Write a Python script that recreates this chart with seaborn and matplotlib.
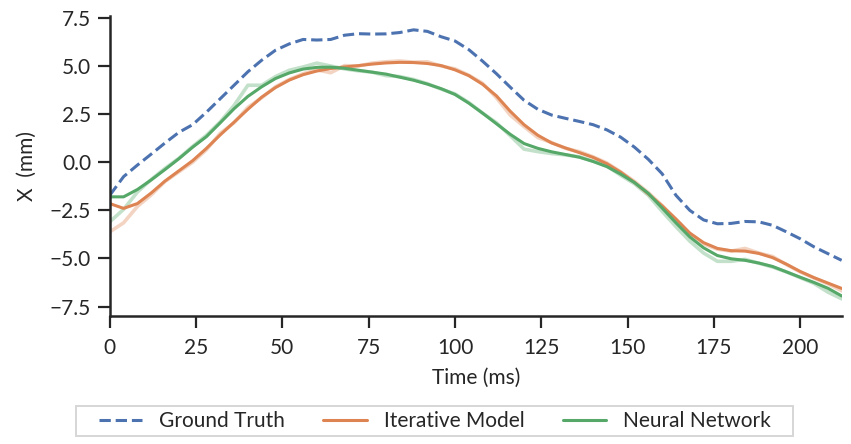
import numpy as np
import pandas as pd
import matplotlib
matplotlib.use("Agg")
import matplotlib.pyplot as plt
import seaborn as sns

# Sample times (ms)
time_ms = list(range(0, 213, 4))

ground_truth = [
    -1.72, -0.75, -0.15, 0.42, 1.00, 1.55, 1.95, 2.60, 3.30, 4.00,
    4.70, 5.30, 5.82, 6.15, 6.38, 6.35, 6.38, 6.60, 6.68, 6.66,
    6.67, 6.74, 6.88, 6.80, 6.52, 6.30, 5.85, 5.25, 4.60, 3.90,
    3.22, 2.75, 2.45, 2.28, 2.12, 1.95, 1.68, 1.30, 0.78, 0.15,
    -0.60, -1.72, -2.50, -3.00, -3.20, -3.18, -3.08, -3.10, -3.28, -3.62,
    -3.98, -4.40, -4.75, -5.10,
]

iterative_smooth = [
    -2.15, -2.40, -2.15, -1.60, -0.98, -0.45, 0.08, 0.72, 1.42, 2.08,
    2.75, 3.38, 3.88, 4.27, 4.55, 4.74, 4.87, 4.95, 5.02, 5.10,
    5.16, 5.19, 5.18, 5.13, 5.02, 4.80, 4.50, 4.05, 3.45, 2.65,
    1.95, 1.40, 1.00, 0.74, 0.50, 0.25, -0.08, -0.52, -1.05, -1.65,
    -2.27, -2.95, -3.68, -4.18, -4.48, -4.60, -4.62, -4.74, -4.96, -5.30,
    -5.68, -6.00, -6.28, -6.56,
]

iterative_raw = [
    -3.62, -3.15, -2.30, -1.70, -1.00, -0.50, 0.00, 0.65, 1.50, 2.05,
    2.85, 3.35, 3.92, 4.30, 4.60, 4.80, 4.65, 5.02, 5.00, 5.15,
    5.22, 5.26, 5.20, 5.22, 5.00, 4.85, 4.52, 4.10, 3.35, 2.45,
    1.85, 1.28, 1.02, 0.72, 0.55, 0.28, -0.04, -0.50, -1.00, -1.58,
    -2.25, -3.00, -3.72, -4.25, -4.52, -4.62, -4.48, -4.72, -4.90, -5.32,
    -5.70, -6.02, -6.32, -6.68,
]

network_smooth = [
    -1.80, -1.80, -1.42, -0.92, -0.38, 0.18, 0.78, 1.33, 2.05, 2.78,
    3.42, 3.92, 4.35, 4.64, 4.84, 4.93, 4.94, 4.88, 4.78, 4.68,
    4.58, 4.42, 4.26, 4.06, 3.82, 3.52, 3.07, 2.55, 2.00, 1.45,
    0.97, 0.72, 0.54, 0.40, 0.26, 0.04, -0.23, -0.62, -1.06, -1.62,
    -2.38, -3.15, -3.88, -4.45, -4.85, -5.02, -5.10, -5.24, -5.42, -5.70,
    -5.98, -6.25, -6.55, -6.95,
]

network_raw = [
    -3.10, -2.45, -1.55, -0.90, -0.32, 0.20, 0.82, 1.40, 2.10, 2.95,
    4.00, 4.00, 4.45, 4.78, 4.95, 5.15, 5.00, 4.85, 4.75, 4.68,
    4.50, 4.45, 4.30, 4.08, 3.80, 3.55, 3.10, 2.55, 2.05, 1.38,
    0.68, 0.55, 0.45, 0.38, 0.28, 0.05, -0.20, -0.68, -1.12, -1.72,
    -2.55, -3.35, -4.10, -4.72, -5.15, -5.15, -5.05, -5.25, -5.45, -5.70,
    -6.00, -6.30, -6.75, -7.10,
]

x_ticks = [0, 25, 50, 75, 100, 125, 150, 175, 200]
y_ticks = [-7.5, -5.0, -2.5, 0.0, 2.5, 5.0, 7.5]

sns.set_theme(style="ticks", context="notebook")
plt.rcParams["font.family"] = ["Lato", "DejaVu Sans"]
plt.rcParams["axes.unicode_minus"] = True

pal = sns.color_palette("deep")
c_gt, c_it, c_nn = pal[0], pal[1], pal[2]

df = pd.DataFrame({
    "t": time_ms,
    "gt": ground_truth,
    "it_s": iterative_smooth,
    "it_r": iterative_raw,
    "nn_s": network_smooth,
    "nn_r": network_raw,
})

fs = 15
ink = "#262626"

fig = plt.figure(figsize=(8.51, 4.44), dpi=100)
ax = fig.add_axes([0.129, 0.288, 0.86, 0.676])

lw = 2.2
# faint unfiltered traces
sns.lineplot(data=df, x="t", y="it_r", ax=ax, color=c_it, alpha=0.35, lw=2.6, legend=False)
sns.lineplot(data=df, x="t", y="nn_r", ax=ax, color=c_nn, alpha=0.35, lw=2.6, legend=False)
# smoothed traces
sns.lineplot(data=df, x="t", y="gt", ax=ax, color=c_gt, lw=lw, linestyle="--", label="Ground Truth")
sns.lineplot(data=df, x="t", y="it_s", ax=ax, color=c_it, lw=lw, label="Iterative Model")
sns.lineplot(data=df, x="t", y="nn_s", ax=ax, color=c_nn, lw=lw, label="Neural Network")

ax.set_xlim(0, 212)
ax.set_ylim(-8.0, 7.6)
ax.set_xticks(x_ticks)
ax.set_yticks(y_ticks)
ax.set_xticklabels([str(v) for v in x_ticks])
ax.set_yticklabels([f"{v:.1f}".replace("-", "\u2212") for v in y_ticks])
ax.tick_params(labelsize=fs, length=8.5, width=1.6, colors=ink)
ax.tick_params(axis="x", pad=7.5)
ax.tick_params(axis="y", pad=5)
for s in ("left", "bottom"):
    ax.spines[s].set_linewidth(1.8)
    ax.spines[s].set_color(ink)
sns.despine(ax=ax)

ax.set_xlabel("Time (ms)", fontsize=fs, color=ink, labelpad=7)
ax.set_ylabel("X  (mm)", fontsize=fs, color=ink, labelpad=9)

handles, labels = ax.get_legend_handles_labels()
ax.get_legend().remove()
leg = fig.legend(handles, labels, loc="upper center", bbox_to_anchor=(0.511, 0.0856),
                 borderaxespad=0, ncol=3, fontsize=fs, frameon=True, handlelength=2.07,
                 columnspacing=1.85, handletextpad=0.82, borderpad=0.24)
frame = leg.get_frame()
frame.set_edgecolor("#cccccc")
frame.set_linewidth(1.4)
# wide horizontal margin, slim vertical margin
frame.set_boxstyle("square", pad=0.84)
frame.set_mutation_aspect(0.01)

fig.savefig("out.png", dpi=100)
